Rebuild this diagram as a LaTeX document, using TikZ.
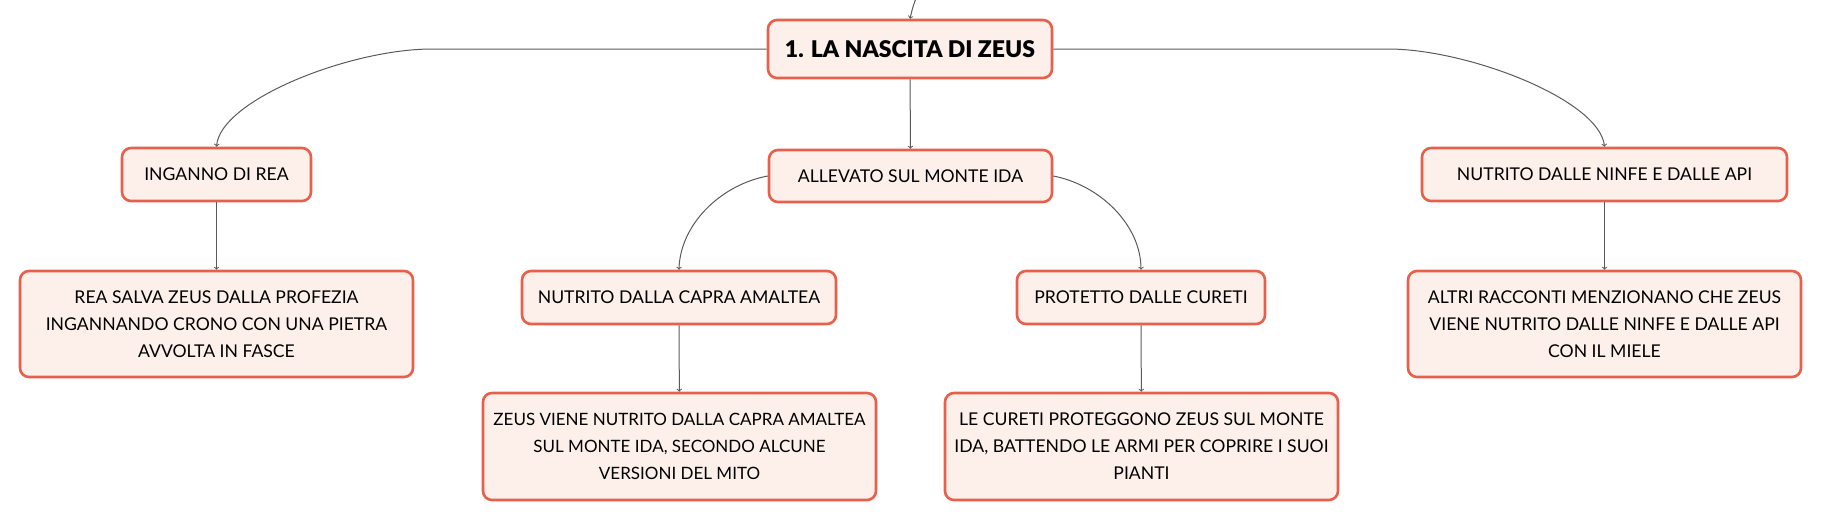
\documentclass[tikz,border=0pt]{standalone}
\usepackage{xcolor}
\usepackage{fontspec}
\setmainfont{Lato}
\newfontfamily\heavyfont{Lato Black}
\usepackage{tikz}

\definecolor{boxline}{HTML}{E8604C}
\definecolor{boxfill}{HTML}{FDF0EA}
\definecolor{linkgray}{HTML}{5A5A5A}

\begin{document}
\begin{tikzpicture}[x=1pt,y=-1pt,
        box/.style={draw=boxline,fill=boxfill,line width=2.6pt,rounded corners=9pt,
                    inner sep=0pt,align=center,font=\fontsize{17.6}{27}\selectfont},
        link/.style={draw=linkgray,line width=1pt,->}]
                \useasboundingbox (0,0) rectangle (1821,520);

                \node[box,minimum width=284,minimum height=58,font=\fontsize{23}{27}\selectfont\heavyfont] (root) at (910,49) {1. LA NASCITA DI ZEUS};
                \node[box,minimum width=283,minimum height=52] (allev) at (910.5,176) {ALLEVATO SUL MONTE IDA};
                \node[box,minimum width=189,minimum height=53] (ing) at (216.5,174.5) {INGANNO DI REA};
                \node[box,minimum width=365,minimum height=53] (ninfe) at (1604.5,174.5) {NUTRITO DALLE NINFE E DALLE API};
                \node[box,minimum width=314,minimum height=53] (capra) at (679,297.5) {NUTRITO DALLA CAPRA AMALTEA};
                \node[box,minimum width=248,minimum height=53] (prot) at (1141,297.5) {PROTETTO DALLE CURETI};

                \node[box,minimum width=393,minimum height=106] (ingtxt) at (216.5,324) {REA SALVA ZEUS DALLA PROFEZIA\\INGANNANDO CRONO CON UNA PIETRA\\AVVOLTA IN FASCE};
                \node[box,minimum width=393,minimum height=106] (ninfetxt) at (1604.5,324) {ALTRI RACCONTI MENZIONANO CHE ZEUS\\VIENE NUTRITO DALLE NINFE E DALLE API\\CON IL MIELE};
                \node[box,minimum width=393,minimum height=107,font=\fontsize{17}{27}\selectfont] (capratxt) at (679.5,446.5) {ZEUS VIENE NUTRITO DALLA CAPRA AMALTEA\\SUL MONTE IDA, SECONDO ALCUNE\\VERSIONI DEL MITO};
                \node[box,minimum width=393,minimum height=107] (prottxt) at (1141.5,446.5) {LE CURETI PROTEGGONO ZEUS SUL MONTE\\IDA, BATTENDO LE ARMI PER COPRIRE I SUOI\\PIANTI};

                \coordinate (up) at (917,-4);
                \coordinate (lbend) at (432,49);
                \coordinate (rbend) at (1388,49);

                \draw[link] (up) .. controls (913,6) .. (root.north);
                \draw[link] (root.west) -- (lbend) .. controls (350,49) and (220,100) .. (ing.north);
                \draw[link] (root.east) -- (rbend) .. controls (1468,49) and (1600,100) .. (ninfe.north);
                \draw[link] (root) -- (allev);
                \draw[link] (allev.west) .. controls (720,185) and (680,225) .. (capra.north);
                \draw[link] (allev.east) .. controls (1100,185) and (1141,225) .. (prot.north);
                \draw[link] (ing) -- (ingtxt);
                \draw[link] (ninfe) -- (ninfetxt);
                \draw[link] (capra) -- (capratxt);
                \draw[link] (prot) -- (prottxt);

            \end{tikzpicture}
\end{document}
